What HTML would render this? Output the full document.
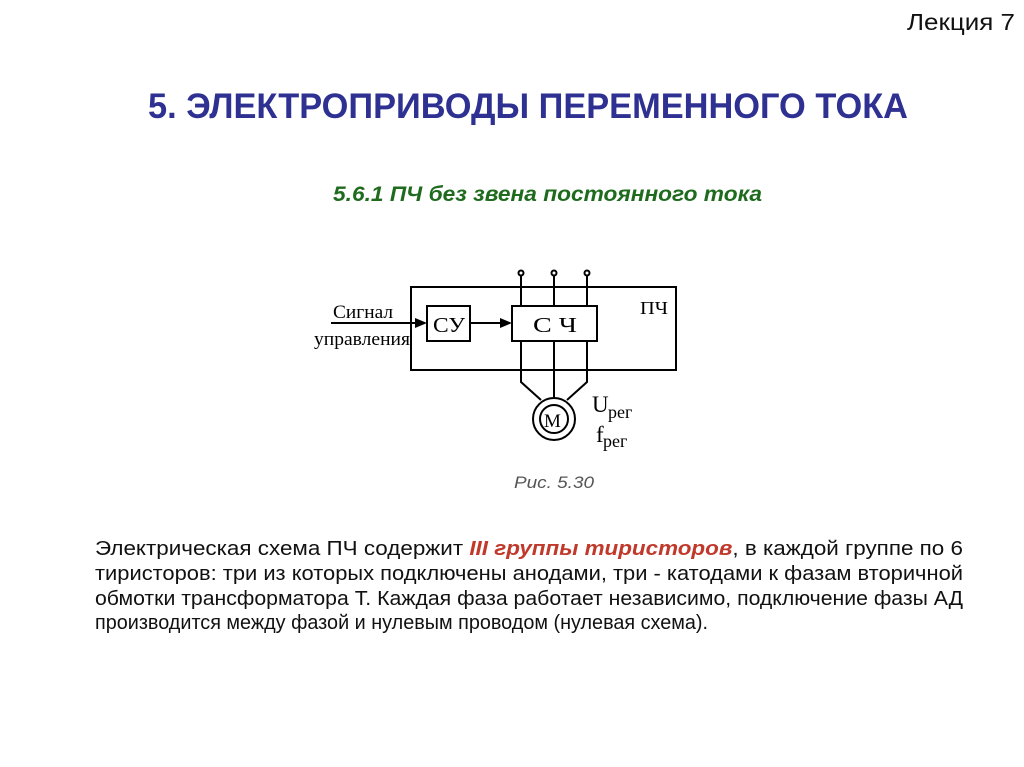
<!DOCTYPE html>
<html><head><meta charset="utf-8"><style>
html,body{margin:0;padding:0;background:#fff;}
svg{display:block;}
</style></head><body>
<svg width="1024" height="767" viewBox="0 0 1024 767" xmlns="http://www.w3.org/2000/svg" font-family="Liberation Sans, sans-serif">
<rect width="1024" height="767" fill="#fff"/>
<text x="907" y="30" font-size="23" textLength="108" lengthAdjust="spacingAndGlyphs" fill="#111">Лекция 7</text>
<text x="148" y="118" font-size="35" font-weight="bold" fill="#2E3192" textLength="760" lengthAdjust="spacingAndGlyphs">5. ЭЛЕКТРОПРИВОДЫ ПЕРЕМЕННОГО ТОКА</text>
<text x="333" y="201" font-size="21" font-weight="bold" font-style="italic" fill="#1E6B1E" textLength="429" lengthAdjust="spacingAndGlyphs">5.6.1 ПЧ без звена постоянного тока</text>

<g stroke="#000" stroke-width="2" fill="none">
<rect x="411" y="287" width="265" height="83"/>
<rect x="427" y="306" width="43" height="35"/>
<rect x="512" y="306" width="85" height="35"/>
<line x1="521" y1="276" x2="521" y2="306"/>
<line x1="554" y1="276" x2="554" y2="306"/>
<line x1="587" y1="276" x2="587" y2="306"/>
<circle cx="521" cy="273" r="2.5"/>
<circle cx="554" cy="273" r="2.5"/>
<circle cx="587" cy="273" r="2.5"/>
<polyline points="521,341 521,382 541,400"/>
<line x1="554" y1="341" x2="554" y2="398"/>
<polyline points="587,341 587,382 567,400"/>
<circle cx="554" cy="419" r="21"/>
<circle cx="554" cy="419" r="14"/>
<line x1="331" y1="323" x2="418" y2="323"/>
<line x1="470" y1="323" x2="503" y2="323"/>
</g>
<polygon points="427,323 415,318 415,328" fill="#000"/>
<polygon points="512,323 500,318 500,328" fill="#000"/>
<g font-family="Liberation Serif, serif" fill="#000">
<text x="333" y="318" font-size="19" textLength="60" lengthAdjust="spacingAndGlyphs">Сигнал</text>
<text x="314" y="345" font-size="19" textLength="96" lengthAdjust="spacingAndGlyphs">управления</text>
<text x="433" y="332" font-size="21" textLength="32" lengthAdjust="spacingAndGlyphs">СУ</text>
<text x="533" y="332" font-size="21" textLength="44" lengthAdjust="spacingAndGlyphs">С Ч</text>
<text x="640" y="314" font-size="18" textLength="28" lengthAdjust="spacingAndGlyphs">ПЧ</text>
<text x="544" y="427" font-size="19">М</text>
<text x="592" y="412" font-size="23">U</text>
<text x="608" y="418" font-size="18">рег</text>
<text x="596" y="442" font-size="23">f</text>
<text x="603" y="447" font-size="18">рег</text>
</g>
<text x="514" y="488" font-size="17" font-style="italic" fill="#555" textLength="80" lengthAdjust="spacingAndGlyphs">Рис. 5.30</text>

<g font-size="20" fill="#111">
<text x="95" y="555" textLength="868" lengthAdjust="spacingAndGlyphs">Электрическая схема ПЧ содержит  <tspan fill="#C0392B" font-weight="bold" font-style="italic">III группы тиристоров</tspan>, в каждой группе по 6</text>
<text x="95" y="580" textLength="868" lengthAdjust="spacingAndGlyphs">тиристоров: три из которых подключены анодами, три - катодами к фазам вторичной</text>
<text x="95" y="605" textLength="868" lengthAdjust="spacingAndGlyphs">обмотки трансформатора Т. Каждая фаза работает независимо, подключение фазы  АД</text>
<text x="95" y="629" textLength="613" lengthAdjust="spacingAndGlyphs">производится между фазой и нулевым проводом (нулевая схема).</text>
</g>
</svg>
</body></html>
